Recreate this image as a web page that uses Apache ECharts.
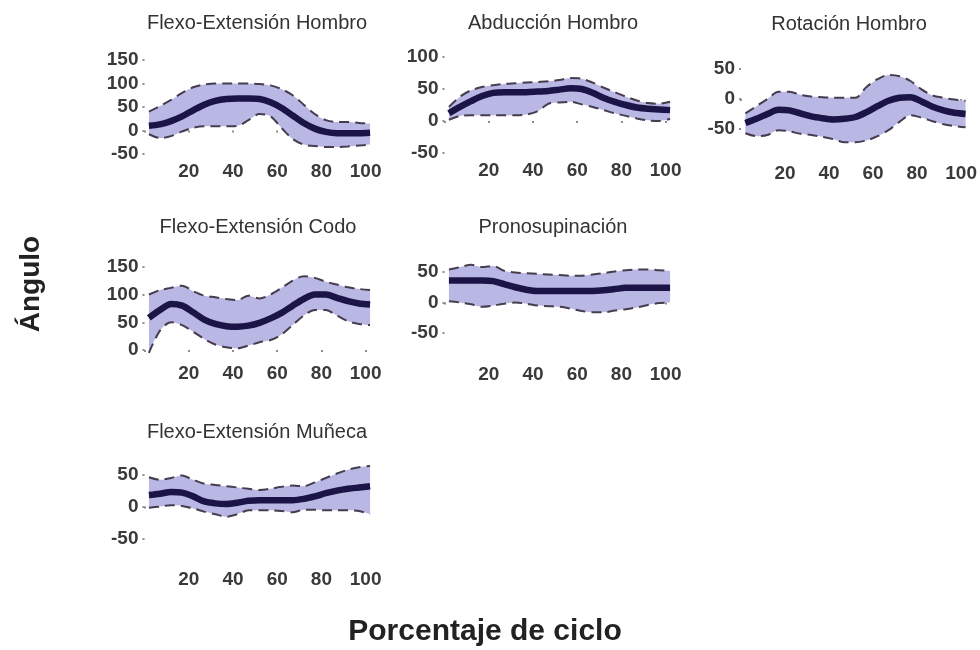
<!DOCTYPE html>
<html>
<head>
<meta charset="utf-8">
<script src="https://cdn.jsdelivr.net/npm/echarts@6/dist/echarts.min.js"></script>
<style>
  html, body { margin: 0; padding: 0; background: #ffffff; }
  #chart { width: 980px; height: 650px; }
</style>
</head>
<body>
<div id="chart"></div>
<script>
// Porcentaje del ciclo de movimiento (eje X común)
const pct = [2, 7, 12, 17, 22, 27, 32, 37, 42, 47, 52, 57, 62, 67, 72, 77, 82, 87, 92, 97, 102];

// Flexo-Extensión Hombro
const hombroFlexMedia = [10, 13, 20, 30, 43, 55, 63, 67, 68, 68, 67, 60, 48, 32, 16, 4, -3, -6, -6, -6, -5];
const hombroFlexSup   = [40, 52, 65, 80, 92, 98, 100, 100, 100, 100, 99, 96, 88, 75, 55, 35, 22, 18, 18, 16, 15];
const hombroFlexInf   = [-8, -16, -12, -2, 6, 9, 9, 9, 10, 22, 35, 30, 5, -18, -30, -33, -35, -35, -34, -32, -30];

// Abducción Hombro
const hombroAbdMedia = [12, 22, 31, 39, 44, 45, 45, 45, 46, 47, 49, 51, 50, 44, 36, 30, 25, 21, 19, 18, 17];
const hombroAbdSup   = [22, 38, 48, 53, 56, 58, 59, 60, 61, 62, 64, 67, 66, 60, 52, 45, 38, 32, 28, 27, 30];
const hombroAbdInf   = [2, 8, 9, 9, 9, 9, 9, 10, 15, 27, 29, 30, 26, 22, 17, 12, 8, 4, 1, 0, 3];

// Rotación Hombro
const hombroRotMedia = [-40, -33, -25, -18, -19, -24, -29, -32, -34, -33, -30, -22, -12, -3, 2, 3, -4, -13, -19, -23, -25];
const hombroRotSup   = [-24, -12, 0, 12, 12, 7, 4, 3, 2, 2, 2, 20, 33, 40, 38, 30, 16, 6, 2, -1, -3];
const hombroRotInf   = [-57, -62, -60, -52, -54, -58, -60, -63, -67, -72, -72, -69, -62, -52, -38, -27, -31, -37, -42, -45, -47];

// Flexo-Extensión Codo
const codoMedia = [58, 72, 83, 80, 68, 55, 47, 43, 42, 44, 49, 57, 67, 80, 92, 100, 100, 94, 88, 84, 82];
const codoSup   = [100, 108, 112, 116, 106, 98, 95, 92, 90, 98, 93, 100, 112, 125, 133, 130, 123, 118, 113, 110, 108];
const codoInf   = [-5, 35, 50, 45, 33, 20, 10, 5, 3, 8, 14, 18, 28, 45, 62, 72, 72, 62, 52, 47, 45];

// Pronosupinación
const pronoMedia = [36, 36, 36, 36, 35, 30, 25, 21, 19, 19, 19, 19, 19, 19, 20, 22, 24, 24, 24, 24, 24];
const pronoSup   = [54, 58, 62, 58, 60, 52, 49, 48, 47, 46, 45, 44, 44, 46, 48, 51, 53, 54, 54, 53, 52];
const pronoInf   = [2, 0, -3, -7, -5, -2, 0, -2, -5, -6, -7, -10, -14, -16, -16, -13, -11, -8, -4, -1, 0];

// Flexo-Extensión Muñeca
const munecaMedia = [18, 20, 23, 22, 16, 8, 5, 4, 6, 9, 10, 10, 10, 10, 12, 16, 21, 25, 28, 30, 32];
const munecaSup   = [46, 42, 45, 49, 42, 36, 34, 32, 30, 28, 26, 28, 31, 33, 32, 38, 45, 52, 58, 62, 64];
const munecaInf   = [-2, 0, 2, 1, -3, -8, -12, -16, -12, -6, -6, -6, -7, -9, -5, -5, -6, -6, -6, -7, -12];

// Títulos de los paneles
const titulos = ['Flexo-Extensión Hombro', 'Abducción Hombro', 'Rotación Hombro',
                 'Flexo-Extensión Codo', 'Pronosupinación', 'Flexo-Extensión Muñeca'];

// Marcas de los ejes
const xTicks = [0, 20, 40, 60, 80, 100];
const xLabels = [20, 40, 60, 80, 100];
const yTicks1 = [-50, 0, 50, 100, 150];
const yTicks2 = [-50, 0, 50, 100];
const yTicks3 = [-50, 0, 50];
const yTicks4 = [0, 50, 100, 150];
const yTicks5 = [-50, 0, 50];
const yTicks6 = [-50, 0, 50];

const paneles = [
  { media: hombroFlexMedia, sup: hombroFlexSup, inf: hombroFlexInf, ticks: yTicks1 },
  { media: hombroAbdMedia,  sup: hombroAbdSup,  inf: hombroAbdInf,  ticks: yTicks2 },
  { media: hombroRotMedia,  sup: hombroRotSup,  inf: hombroRotInf,  ticks: yTicks3 },
  { media: codoMedia,       sup: codoSup,       inf: codoInf,       ticks: yTicks4 },
  { media: pronoMedia,      sup: pronoSup,      inf: pronoInf,      ticks: yTicks5 },
  { media: munecaMedia,     sup: munecaSup,     inf: munecaInf,     ticks: yTicks6 }
];

// Cajas de cada panel y rango vertical
const layout = [
  { left: 144.5, top: 60,    width: 230, height: 94,    min: -50, max: 150, tx: 257, ty: 23 },
  { left: 444.5, top: 57,    width: 230, height: 96,    min: -50, max: 100, tx: 553, ty: 23 },
  { left: 741,   top: 60,    width: 230, height: 96,    min: -95, max: 65,  tx: 849, ty: 24 },
  { left: 144.5, top: 264,   width: 230, height: 92.7,  min: -12, max: 155, tx: 258, ty: 227 },
  { left: 444.5, top: 259.8, width: 230, height: 97.6,  min: -90, max: 70,  tx: 553, ty: 227 },
  { left: 144.5, top: 458.9, width: 230, height: 102.9, min: -87, max: 75,  tx: 257, ty: 432 }
];

const FONT = '"Liberation Sans", Arial, Helvetica, sans-serif';
const BANDA = '#b9b7e3';
const MEDIA = '#1b1446';
const LIMITE = '#463c4e';
const TEXTO = '#3a3a3a';

const grid = [], xAxis = [], yAxis = [], series = [], graphic = [];

paneles.forEach((p, i) => {
  const L = layout[i];
  grid.push({ left: L.left, top: L.top, width: L.width, height: L.height, containLabel: false });
  xAxis.push({
    gridIndex: i, type: 'value', min: 0, max: 104,
    axisLine: { show: false }, splitLine: { show: false },
    axisTick: { show: true, length: 2, customValues: xTicks, lineStyle: { color: '#8c8c8c', width: 2 } },
    axisLabel: { customValues: xLabels, color: TEXTO, fontFamily: FONT, fontSize: 19, fontWeight: 'bold', margin: 8 }
  });
  yAxis.push({
    gridIndex: i, type: 'value', min: L.min, max: L.max,
    axisLine: { show: false }, splitLine: { show: false },
    axisTick: { show: true, length: 2, customValues: p.ticks, lineStyle: { color: '#8c8c8c', width: 2 } },
    axisLabel: { customValues: p.ticks, color: TEXTO, fontFamily: FONT, fontSize: 19, fontWeight: 'bold', margin: 6 }
  });

  // El ángulo va en la primera dimensión para que el apilado se haga sobre el eje Y
  const stackId = 'banda' + i;
  // límite inferior (base de la banda)
  series.push({
    type: 'line', xAxisIndex: i, yAxisIndex: i, stack: stackId, stackStrategy: 'all',
    data: pct.map((x, k) => [p.inf[k], x]),
    encode: { x: 1, y: 0 },
    showSymbol: false, smooth: 0.3, z: 3, silent: true,
    lineStyle: { color: LIMITE, width: 2, type: [10, 6] }
  });
  // banda entre límites (apilada sobre el inferior); su borde es el límite superior
  series.push({
    type: 'line', xAxisIndex: i, yAxisIndex: i, stack: stackId, stackStrategy: 'all',
    data: pct.map((x, k) => [p.sup[k] - p.inf[k], x]),
    encode: { x: 1, y: 0 },
    showSymbol: false, smooth: 0.3, z: 2, silent: true,
    lineStyle: { color: LIMITE, width: 2, type: [10, 6] },
    areaStyle: { color: BANDA, opacity: 1 }
  });
  // curva media
  series.push({
    type: 'line', xAxisIndex: i, yAxisIndex: i,
    data: pct.map((x, k) => [x, p.media[k]]),
    showSymbol: false, smooth: 0.3, z: 4, silent: true,
    lineStyle: { color: MEDIA, width: 6.5 }
  });

  graphic.push({
    type: 'text', x: L.tx, y: L.ty, silent: true,
    style: { text: titulos[i], fill: '#333333', font: '20px ' + FONT, textAlign: 'center', textVerticalAlign: 'middle' }
  });
});

graphic.push({
  type: 'text', x: 31, y: 284, rotation: Math.PI / 2, silent: true,
  style: { text: 'Ángulo', fill: '#222222', font: 'bold 28px ' + FONT, textAlign: 'center', textVerticalAlign: 'middle' }
});
graphic.push({
  type: 'text', x: 485, y: 632, silent: true,
  style: { text: 'Porcentaje de ciclo', fill: '#222222', font: 'bold 30px ' + FONT, textAlign: 'center', textVerticalAlign: 'middle' }
});

const chart = echarts.init(document.getElementById('chart'), null, { renderer: 'canvas' });
chart.setOption({
  backgroundColor: '#ffffff',
  animation: false,
  grid, xAxis, yAxis, series, graphic
});
</script>
</body>
</html>
